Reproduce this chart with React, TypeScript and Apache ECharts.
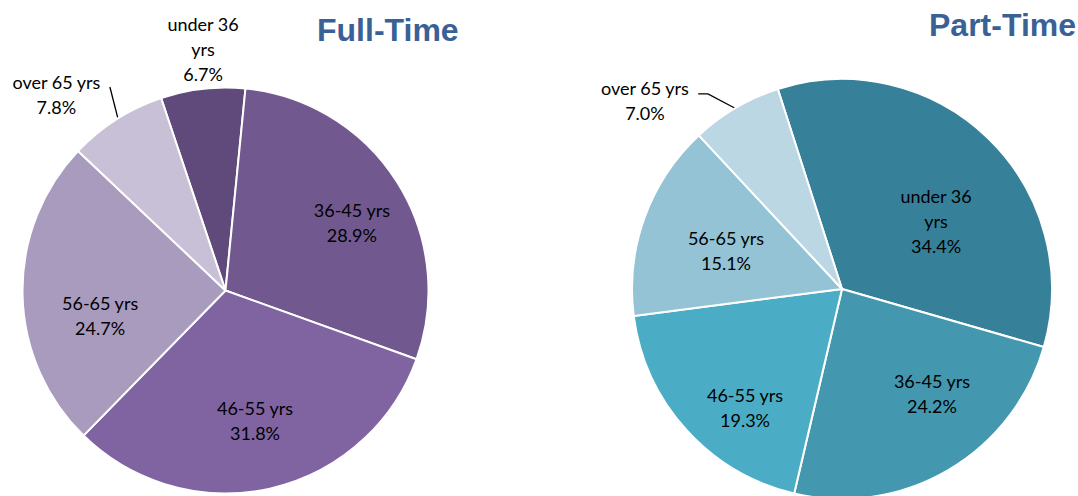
import React, { useEffect, useRef } from "react";
import * as echarts from "echarts";

// ---- data ----
const CATEGORIES = ["under 36 yrs", "36-45 yrs", "46-55 yrs", "56-65 yrs", "over 65 yrs"];
const FULL_TIME = [6.7, 28.9, 31.8, 24.7, 7.8];
const PART_TIME = [34.4, 24.2, 19.3, 15.1, 7.0];
const TITLES = ["Full-Time", "Part-Time"];

// ---- styles ----
const FULL_COLORS = ["#604A7B", "#71588F", "#8064A2", "#A99BBD", "#C8C0D6"];
const PART_COLORS = ["#37809A", "#4398AF", "#4BACC6", "#93C3D5", "#BBD7E3"];
const FONT = "Lato, 'Open Sans', sans-serif";

// label placement, polar [radius factor, angle clockwise from 12 o'clock]
const FULL_LABEL_POS: [number, number][] = [[1.197, 354.7], [0.707, 61.7], [0.657, 167.2], [0.63, 258.7], [1.275, 319.2]];
const PART_LABEL_POS: [number, number][] = [[0.553, 54.1], [0.657, 139.3], [0.729, 219.3], [0.582, 288.4], [1.3, 313.8]];
const FULL_LINES: ([number, number][] | null)[] = [null, null, null, null, [[1.0, 328], [1.153, 330.4]]];
const PART_LINES: ([number, number][] | null)[] = [null, null, null, null, [[1.0, 329.4], [1.127, 325.5], [1.154, 323.6]]];

function polar(center: number[], r: number, f: number, aDeg: number): number[] {
  const a = (aDeg * Math.PI) / 180;
  return [center[0] + f * r * Math.sin(a), center[1] - f * r * Math.cos(a)];
}

function pieSeries(
  values: number[],
  colors: string[],
  center: number[],
  radius: number,
  startAngle: number,
  labelPos: [number, number][],
  lines: ([number, number][] | null)[]
) {
  return {
    type: "pie",
    center,
    radius,
    startAngle,
    clockwise: true,
    avoidLabelOverlap: false,
    silent: true,
    emphasis: { disabled: true, scale: false },
    itemStyle: { borderColor: "#ffffff", borderWidth: 2 },
    label: {
      show: true,
      position: "inside",
      color: "#000000",
      fontFamily: FONT,
      fontSize: 18,
      lineHeight: 25,
      align: "center",
      formatter: (p: any) => {
        const name = p.name === "under 36 yrs" ? "under 36\nyrs" : p.name;
        return name + "\n" + Number(p.value).toFixed(1) + "%";
      },
    },
    labelLine: { show: true, lineStyle: { color: "#000000", width: 1.3 } },
    labelLayout: (p: any) => {
      const [f, a] = labelPos[p.dataIndex];
      const pt = polar(center, radius, f, a);
      const out: any = { x: pt[0], y: pt[1], align: "center", verticalAlign: "middle" };
      const ln = lines[p.dataIndex];
      if (ln) out.labelLinePoints = ln.map(([lf, la]) => polar(center, radius, lf, la));
      return out;
    },
    data: CATEGORIES.map((name, i) => {
      const outside = labelPos[i][0] > 1;
      const item: any = { name, value: values[i], itemStyle: { color: colors[i] } };
      if (outside) {
        item.label = { position: "outside" };
        item.labelLine = { show: !!lines[i], length: 10, length2: 10 };
      }
      return item;
    }),
  };
}

export default function App() {
  const ref = useRef<HTMLDivElement>(null);
  useEffect(() => {
    document.body.style.margin = "0";
    if (!ref.current) return;
    const chart = echarts.init(ref.current, undefined, { renderer: "svg" });
    const titleStyle = {
      fontFamily: "'Liberation Sans', Arial, sans-serif",
      fontWeight: "bold" as const,
      fontSize: 32,
      lineHeight: 32,
      color: "#3A6196",
    };
    chart.setOption({
      animation: false,
      backgroundColor: "#ffffff",
      title: [
        { text: TITLES[0], left: 317, top: 14, padding: 0, textStyle: titleStyle },
        { text: TITLES[1], left: 929, top: 9, padding: 0, textStyle: titleStyle },
      ],
      series: [
        pieSeries(FULL_TIME, FULL_COLORS, [225.5, 290.5], 203, 108.5, FULL_LABEL_POS, FULL_LINES),
        pieSeries(PART_TIME, PART_COLORS, [842, 289], 210, 107.8, PART_LABEL_POS, PART_LINES),
      ],
    });
    return () => chart.dispose();
  }, []);
  return <div ref={ref} style={{ width: 1078, height: 496 }} />;
}
